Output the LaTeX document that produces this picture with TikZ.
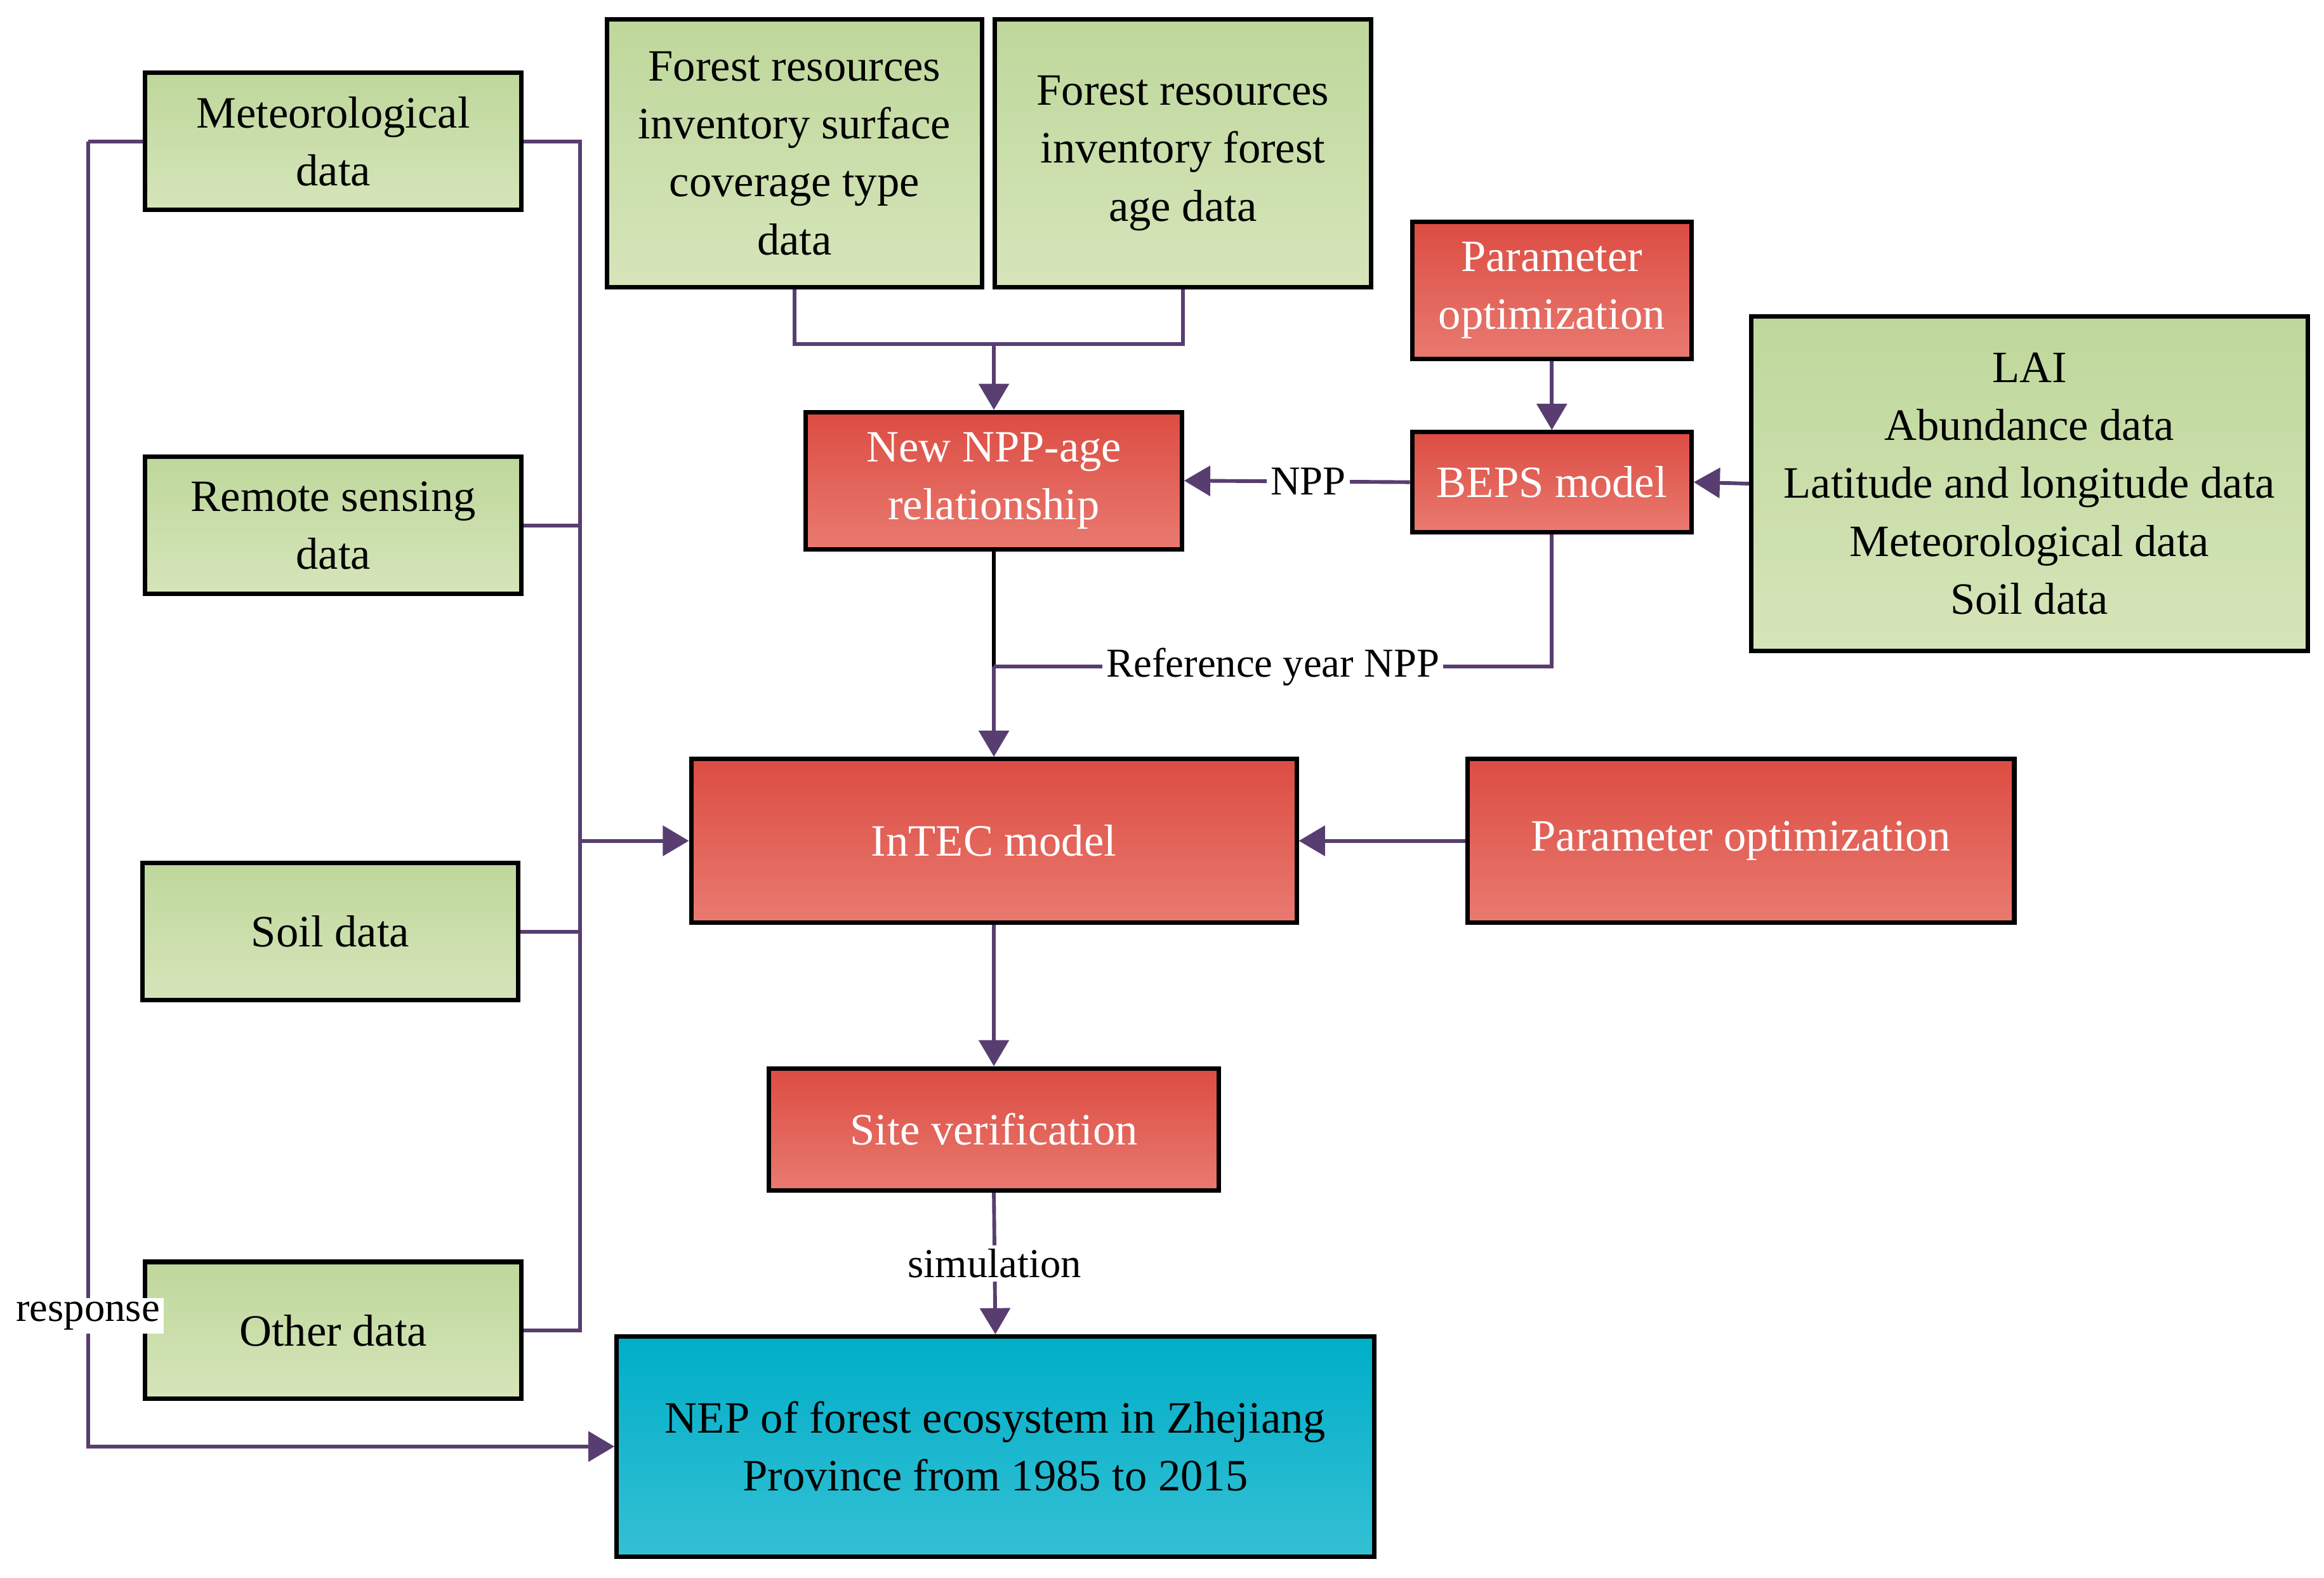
\documentclass[tikz,border=0pt]{standalone}
\usepackage{fontspec}
\setmainfont{Liberation Serif}
\usetikzlibrary{positioning,arrows.meta}
\definecolor{lineviolet}{RGB}{88,62,112}
\tikzset{
  box/.style={draw=black, line width=1.2pt, align=center, inner sep=2pt,
    font=\fontsize{12}{15.5}\selectfont},
  databox/.style={box, top color={rgb,255:red,190;green,215;blue,155}, bottom color={rgb,255:red,214;green,229;blue,186}},
  modelbox/.style={box, text=white, top color={rgb,255:red,220;green,76;blue,66}, bottom color={rgb,255:red,233;green,122;blue,112}},
  resultbox/.style={box, top color={rgb,255:red,0;green,174;blue,200}, bottom color={rgb,255:red,52;green,192;blue,212}},
  link/.style={draw=lineviolet, line width=1pt},
  arr/.style={link, -{Triangle[length=7pt,width=8pt]}},
  lbl/.style={fill=white, inner sep=1pt, font=\fontsize{11}{13}\selectfont}
}
\begin{document}
\begin{tikzpicture}[x=0.014cm, y=-0.014cm]
	\useasboundingbox (0,0) rectangle (1562,1060);
	% Data
	\node[databox, minimum width=3.54cm, minimum height=1.29cm] (met) at (224,95) {Meteorological\\data};
	\node[databox, minimum width=3.54cm, minimum height=1.29cm] (rs) at (224,353) {Remote sensing\\data};
	\node[databox, minimum width=3.54cm, minimum height=1.29cm] (soil) at (222,626) {Soil data};
	\node[databox, minimum width=3.54cm, minimum height=1.29cm] (other) at (224,894) {Other data};
	\node[databox, minimum width=3.53cm, minimum height=2.52cm] (cover) at (534,103) {Forest resources\\inventory surface\\coverage type\\data};
	\node[databox, minimum width=3.54cm, minimum height=2.52cm] (age) at (795,103) {Forest resources\\inventory forest\\age data};
	\node[databox, minimum width=5.24cm, minimum height=3.15cm] (lai) at (1364,325) {LAI\\Abundance data\\Latitude and longitude data\\Meteorological data\\Soil data};
	% Models
	\node[modelbox, minimum width=2.63cm, minimum height=1.29cm] (popt) at (1043,195) {Parameter\\optimization};
	\node[modelbox, minimum width=2.63cm, minimum height=0.94cm] (beps) at (1043,324) {BEPS model};
	\node[modelbox, minimum width=3.54cm, minimum height=1.29cm] (nppage) at (668,323) {New NPP-age\\relationship};
	\node[modelbox, minimum width=5.7cm, minimum height=1.54cm] (intec) at (668,565) {InTEC model};
	\node[modelbox, minimum width=5.15cm, minimum height=1.54cm] (popt2) at (1170,565) {Parameter optimization};
	\node[modelbox, minimum width=4.24cm, minimum height=1.15cm] (site) at (668,759) {Site verification};
	\node[resultbox, minimum width=7.13cm, minimum height=2.07cm] (nep) at (669,972) {NEP of forest ecosystem in Zhejiang\\Province from 1985 to 2015};

	% Arrows
	\coordinate (bus) at (390,565);
	\draw[link] (met.east) -| (bus);
	\draw[link] (rs.east) -| (bus);
	\draw[link] (soil.east) -| (bus);
	\draw[link] (other.east) -| (bus);
	\draw[arr] (bus) -- (intec.west);
	\draw[link] (met.west) -- ++(-37,0) coordinate (resp);
	\draw[arr] (resp) |- (nep.west) node[lbl, pos=0.45] {response};
	\coordinate (join) at (668,231);
	\draw[link] (cover.south) |- (join);
	\draw[link] (age.south) |- (join);
	\draw[arr] (join) -- (nppage.north);
	\draw[arr] (popt.south) -- (beps.north);
	\draw[arr] (lai.west) -- (beps.east);
	\draw[arr] (beps.west) -- (nppage.east) node[lbl, pos=0.45] {NPP};
	\draw[draw=black, line width=1pt] (nppage.south) -- (668,448) coordinate (ref);
	\draw[link] (beps.south) |- (ref) node[lbl, pos=0.75] {Reference year NPP};
	\draw[arr] (ref) -- (intec.north);
	\draw[arr] (popt2.west) -- (intec.east);
	\draw[arr] (intec.south) -- (site.north);
	\draw[arr] (site.south) -- (nep.north) node[lbl, midway] {simulation};
\end{tikzpicture}
\end{document}
